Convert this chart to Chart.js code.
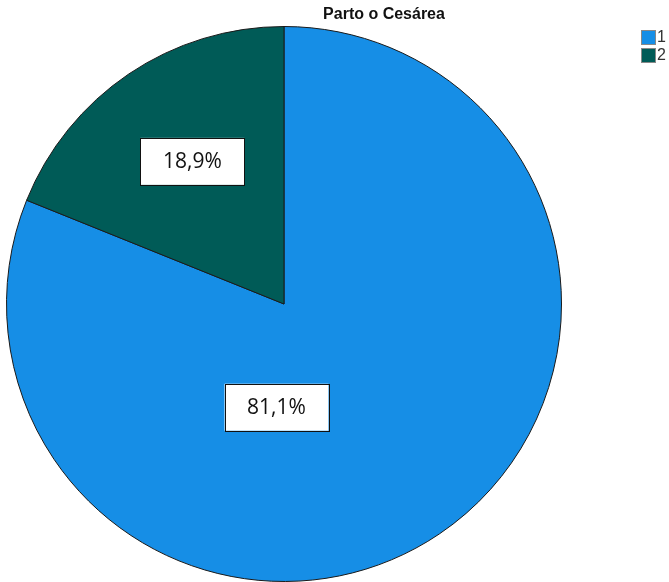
<!DOCTYPE html>
<html>
<head>
<meta charset="utf-8">
<title>Parto o Cesárea</title>
<script src="https://cdn.jsdelivr.net/npm/chart.js@4"></script>
<style>
  html, body { margin: 0; padding: 0; background: #fff; }
  canvas { display: block; }
</style>
</head>
<body>
<canvas id="pieChart" width="669" height="582"></canvas>
<script>
// datos
const categories = ['1', '2'];
const percents = [81.1, 18.9];
const sliceColors = ['#168ee6', '#005b57'];
const chartTitle = 'Parto o Cesárea';

// posición de cada etiqueta relativa al centro, en fracciones del radio
const labelOffsets = [
  { dx: -0.027, dy: 0.372 },
  { dx: -0.330, dy: -0.514 }
];

const boxLabels = {
  id: 'boxLabels',
  afterDatasetsDraw(chart) {
    const ctx = chart.ctx;
    const meta = chart.getDatasetMeta(0);
    ctx.save();
    ctx.font = '21px "Open Sans", "Noto Sans", sans-serif';
    ctx.textAlign = 'center';
    ctx.textBaseline = 'middle';
    meta.data.forEach((arc, i) => {
      const r = arc.outerRadius;
      const x = arc.x + labelOffsets[i].dx * r;
      const y = arc.y + labelOffsets[i].dy * r;
      const text = percents[i].toFixed(1).replace('.', ',') + '%';
      const w = 104, h = 47;
      ctx.fillStyle = '#fff';
      ctx.fillRect(x - w / 2, y - h / 2, w, h);
      ctx.strokeStyle = '#111';
      ctx.lineWidth = 1;
      ctx.strokeRect(Math.round(x - w / 2) + 0.5, Math.round(y - h / 2) + 0.5, w, h);
      ctx.fillStyle = '#111';
      ctx.fillText(text, x, y + 1);
    });
    ctx.restore();
  }
};

// título y leyenda a mano
const titleAndLegend = {
  id: 'titleAndLegend',
  afterDraw(chart) {
    const ctx = chart.ctx;
    ctx.save();
    ctx.font = 'bold 16px "Liberation Sans", Arial, sans-serif';
    ctx.textAlign = 'center';
    ctx.textBaseline = 'middle';
    ctx.fillStyle = '#111';
    ctx.fillText(chartTitle, 384, 15);

    ctx.font = '16px "Liberation Sans", Arial, sans-serif';
    ctx.textAlign = 'left';
    categories.forEach((c, i) => {
      const y = 31 + i * 18;
      ctx.fillStyle = sliceColors[i];
      ctx.fillRect(642, y, 13, 13);
      ctx.strokeStyle = '#888';
      ctx.lineWidth = 1;
      ctx.strokeRect(641.5, y - 0.5, 14, 14);
      ctx.fillStyle = '#333';
      ctx.fillText(c, 657, y + 7);
    });
    ctx.restore();
  }
};

new Chart(document.getElementById('pieChart'), {
  type: 'pie',
  data: {
    labels: categories,
    datasets: [{
      data: percents,
      backgroundColor: sliceColors,
      borderColor: '#1a1a1a',
      borderWidth: 1
    }]
  },
  options: {
    responsive: false,
    animation: false,
    layout: { padding: { left: 6, right: 107, top: 26, bottom: 0 } },
    plugins: {
      legend: { display: false },
      title: { display: false },
      tooltip: { enabled: false }
    }
  },
  plugins: [boxLabels, titleAndLegend]
});
</script>
</body>
</html>
